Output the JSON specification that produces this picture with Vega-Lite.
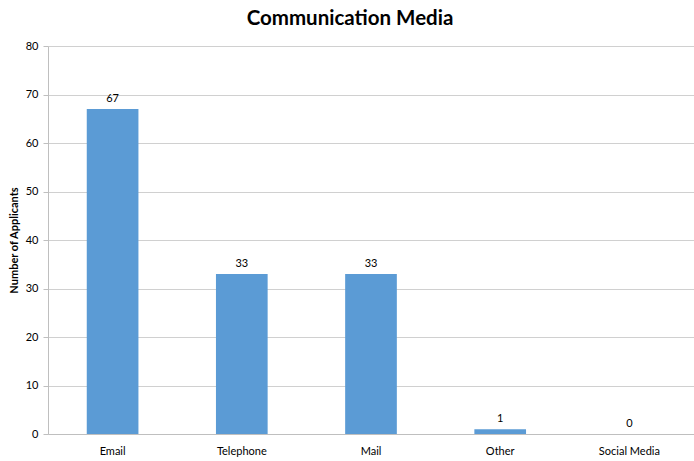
{
  "$schema": "https://vega.github.io/schema/vega-lite/v6.json",
  "width": 646,
  "height": 388,
  "autosize": {"type": "none"},
  "padding": {"left": 48, "top": 46, "right": 0, "bottom": 27},
  "background": "white",
  "title": {
    "text": "Communication Media",
    "font": "Lato",
    "fontSize": 20.5,
    "fontWeight": "bold",
    "color": "#000000",
    "anchor": "middle",
    "dx": -21,
    "offset": 11
  },
  "data": {
    "values": [
      {"medium": "Email", "count": 67},
      {"medium": "Telephone", "count": 33},
      {"medium": "Mail", "count": 33},
      {"medium": "Other", "count": 1},
      {"medium": "Social Media", "count": 0}
    ]
  },
  "encoding": {
    "x": {
      "field": "medium",
      "type": "nominal",
      "sort": null,
      "scale": {"paddingInner": 0.6, "paddingOuter": 0.3},
      "axis": {
        "title": null,
        "labelAngle": 0,
        "ticks": false,
        "labelPadding": 11,
        "labelFont": "Lato",
        "labelFontSize": 11,
        "labelColor": "#000000",
        "domainColor": "#bfbfbf",
        "grid": false
      }
    },
    "y": {
      "field": "count",
      "type": "quantitative",
      "scale": {"domain": [0, 80], "nice": false},
      "axis": {
        "title": "Number of Applicants",
        "titleFont": "Lato",
        "titleFontSize": 11,
        "titleFontWeight": "bold",
        "titleColor": "#000000",
        "titlePadding": 6,
        "values": [0, 10, 20, 30, 40, 50, 60, 70, 80],
        "tickSize": 5,
        "tickColor": "#bfbfbf",
        "labelPadding": 5,
        "labelFont": "Lato",
        "labelFontSize": 11,
        "labelColor": "#000000",
        "domainColor": "#bfbfbf",
        "gridColor": "#d0d0d0",
        "grid": true
      }
    }
  },
  "layer": [
    {"mark": {"type": "bar", "color": "#5b9bd5"}},
    {
      "mark": {"type": "text", "dy": -10, "font": "Lato", "fontSize": 11, "color": "#000000"},
      "encoding": {"text": {"field": "count", "type": "quantitative"}}
    }
  ],
  "config": {"view": {"stroke": null}}
}
